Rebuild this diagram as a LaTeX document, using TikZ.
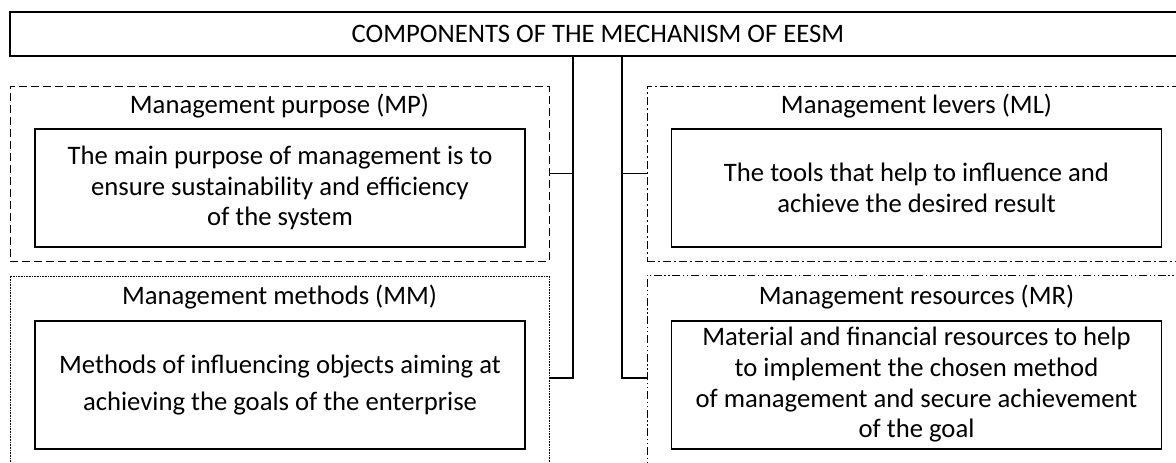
\documentclass[tikz,border=0pt]{standalone}
\usepackage{fontspec}
\setmainfont{Carlito}
\usetikzlibrary{positioning}

\begin{document}
\begin{tikzpicture}[x=0.75pt, y=-0.75pt,
  txt/.style={font=\fontsize{20}{23}\selectfont, align=center, inner sep=0pt},
  headbox/.style={draw, line width=1.2pt, minimum width=1176*0.75pt, minimum height=44*0.75pt, txt},
  grp/.style={draw, line width=0.7pt, minimum width=539*0.75pt},
  itembox/.style={draw, line width=1.2pt, minimum width=490*0.75pt, txt},
  link/.style={line width=1.2pt}]

\useasboundingbox (0,0) rectangle (1176,462);
\clip (0,0) rectangle (1176,462);

% Header
\node[headbox] (top) at (598,34) {COMPONENTS OF THE MECHANISM OF EESM};

% Groups
\node[grp, minimum height=175*0.75pt, dash pattern=on 6pt off 3pt] (mpgrp) at (279.5,173.5) {};
\node[grp, minimum height=204*0.75pt, dash pattern=on 0.6pt off 0.6pt, line width=0.5pt] (mmgrp) at (279.5,378) {};
\node[grp, minimum height=175*0.75pt, dash pattern=on 6pt off 2.5pt on 1pt off 2.5pt] (mlgrp) at (916.5,173.5) {};
\node[grp, minimum height=206*0.75pt, dash pattern=on 6pt off 2pt on 1pt off 2pt on 1pt off 2pt] (mrgrp) at (916.5,378) {};

% Group titles
\node[txt] (mptitle) at (279.5,106) {Management purpose (MP)};
\node[txt] (mmtitle) at (279.5,297) {Management methods (MM)};
\node[txt] (mltitle) at (916.5,106) {Management levers (ML)};
\node[txt] (mrtitle) at (916.5,297) {Management resources (MR)};

% Inner boxes
\node[itembox, minimum height=118*0.75pt] (mpbox) at (280,188)
  {The main purpose of management is to\\ensure sustainability and efficiency\\of the system};
\node[itembox, minimum height=128*0.75pt, font=\fontsize{20}{28}\selectfont] (mmbox) at (280,385)
  {Methods of influencing objects aiming at\\achieving the goals of the enterprise};
\node[itembox, minimum height=118*0.75pt] (mlbox) at (916.5,188)
  {The tools that help to influence and\\achieve the desired result};
\node[itembox, minimum height=128*0.75pt] (mrbox) at (916.5,385)
  {Material and financial resources to help\\to implement the chosen method\\of management and secure achievement\\of the goal};

% Connectors
\coordinate (lbus) at (573,0);
\coordinate (rbus) at (622,0);
\draw[link] (lbus |- top.south) -- (lbus |- mmgrp.east) -- (mmgrp.east);
\draw[link] (lbus |- mpgrp.east) -- (mpgrp.east);
\draw[link] (rbus |- top.south) -- (rbus |- mrgrp.west) -- (mrgrp.west);
\draw[link] (rbus |- mlgrp.west) -- (mlgrp.west);

\end{tikzpicture}
\end{document}
